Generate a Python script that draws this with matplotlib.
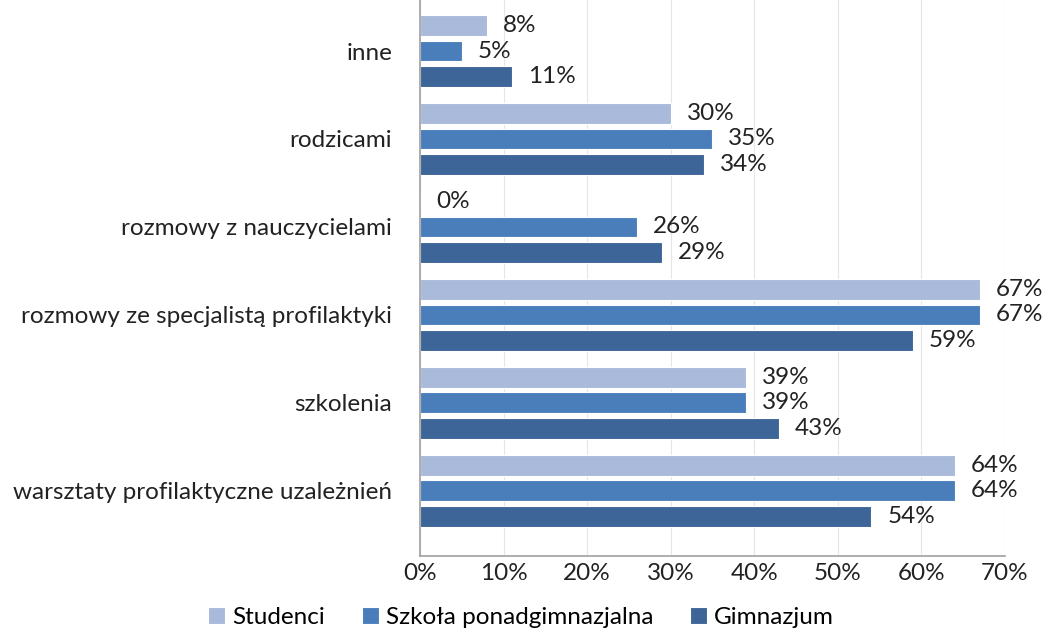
import matplotlib
matplotlib.use("Agg")
import matplotlib.pyplot as plt
import numpy as np

# data
categories = ["warsztaty profilaktyczne uzależnień", "szkolenia",
              "rozmowy ze specjalistą profilaktyki", "rozmowy z nauczycielami",
              "rodzicami", "inne"]
studenci = [64, 39, 67, 0, 30, 8]
szkola = [64, 39, 67, 26, 35, 5]
gimnazjum = [54, 43, 59, 29, 34, 11]
series_names = ["Studenci", "Szkoła ponadgimnazjalna", "Gimnazjum"]
colors = ["#A9BADB", "#4A7EBB", "#3D6597"]

plt.rcParams['font.family'] = ['Lato', 'DejaVu Sans']

fig = plt.figure(figsize=(10.42, 6.36), dpi=100)
ax = fig.add_axes([0.403, 0.126, 0.5615, 0.874])

y = np.arange(len(categories))
offsets = [0.29, 0.0, -0.29]
bh = 0.235

for vals, off, col, name in zip([studenci, szkola, gimnazjum], offsets, colors, series_names):
	bars = ax.barh(y + off, vals, height=bh, color=col, edgecolor="white", linewidth=0.8, label=name)
	# value labels next to the bars
	for yy, v in zip(y + off, vals):
		ax.text(v + 1.9, yy, "%d%%" % v, va="center", ha="left", fontsize=17.5, color="#222222")

ax.set_xlim(0, 70)
ax.set_ylim(-0.74, 5.58)
ax.set_xticks(np.arange(0, 71, 10))
ax.set_xticklabels(["%d%%" % t for t in range(0, 71, 10)], fontsize=17.5, color="#222222")
ax.set_yticks(y)
ax.set_yticklabels(categories, fontsize=17.5, color="#222222")
ax.tick_params(axis="y", length=0, pad=20)
ax.tick_params(axis="x", length=0, pad=5)
ax.xaxis.grid(True, color="#E6E6E6", linewidth=0.8)
ax.set_axisbelow(True)
for s in ["top", "right"]:
	ax.spines[s].set_visible(False)
for s in ["left", "bottom"]:
	ax.spines[s].set_color("#A0A0A0")
	ax.spines[s].set_linewidth(1.2)

fig.legend(loc="lower center", bbox_to_anchor=(0.5, -0.022), ncol=3, frameon=False,
	fontsize=17.5, handlelength=0.7, handleheight=0.7, handletextpad=0.3, columnspacing=1.5)

fig.savefig("out.png", dpi=100)
